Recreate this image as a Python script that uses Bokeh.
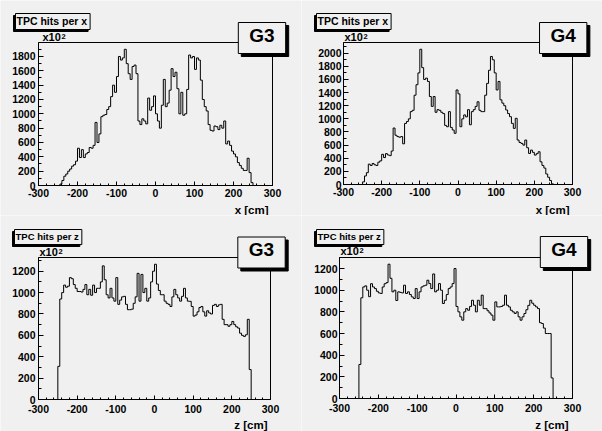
import numpy as np
from bokeh.plotting import figure
from bokeh.layouts import gridplot
from bokeh.models import Label, SingleIntervalTicker, Range1d, PrintfTickFormatter
from bokeh.embed import file_html
from bokeh.resources import INLINE

# ---------------- data (hits, in units of 10^2, 5 cm bins from -250 to 250) -------------
bin_width = 5
bin_low = -250

g3_hits_x = [0, 20, 70, 130, 160, 200, 230, 270, 290, 340,
             520, 390, 500, 390, 440, 460, 530, 520, 560, 880,
             600, 720, 960, 980, 990, 1060, 1100, 1240, 1400, 1300,
             1520, 1800, 1750, 1780, 1900, 1700, 1560, 1480, 1660, 1680,
             1560, 900, 850, 930, 900, 860, 1220, 1050, 1100, 1250,
             1000, 900, 800, 1120, 1480, 1100, 1150, 1330, 1630, 1520,
             1580, 1350, 1000, 1300, 980, 1000, 1340, 1820, 1780, 1800,
             1620, 1780, 1750, 1470, 1200, 1100, 1040, 850, 770, 760,
             830, 820, 780, 840, 800, 900, 580, 620, 560, 480,
             440, 400, 320, 280, 240, 210, 210, 380, 180, 40]

g4_hits_x = [40, 130, 180, 310, 290, 320, 300, 290, 340, 360,
             460, 410, 470, 450, 440, 510, 860, 750, 730, 720,
             730, 620, 930, 960, 1000, 1110, 1130, 1360, 1520, 1700,
             2060, 1780, 1600, 1620, 1570, 1340, 1190, 1340, 1100, 1140,
             1130, 1100, 1080, 900, 880, 1110, 870, 830, 780, 1440,
             1380, 880, 1000, 1060, 1030, 1140, 910, 1110, 1140, 1190,
             1260, 1130, 1110, 1110, 1360, 1540, 1740, 1950, 1900, 1700,
             1440, 1570, 1290, 1240, 1200, 1135, 1080, 1033, 931, 855,
             1008, 677, 640, 626, 600, 677, 560, 473, 524, 490,
             448, 470, 499, 346, 290, 250, 160, 110, 60, 10]

g3_hits_z = [310, 940, 1000, 1070, 1050, 1060, 1140, 1130, 1075, 1040,
             1010, 1010, 1005, 1030, 1075, 980, 1030, 975, 1070, 1000,
             1040, 1040, 1100, 1250, 1120, 980, 950, 1040, 950, 920,
             1140, 890, 930, 960, 965, 890, 840, 840, 845, 900,
             960, 1180, 920, 1170, 1000, 1040, 920, 950, 1100, 1200,
             1265, 1080, 1020, 980, 980, 920, 900, 890, 870, 960,
             1030, 980, 950, 920, 965, 1040, 950, 920, 918, 870,
             780, 790, 820, 860, 870, 820, 780, 830, 810, 800,
             880, 890, 870, 885, 890, 750, 700, 700, 685, 700,
             730, 700, 680, 668, 620, 600, 590, 605, 750, 280]

g4_hits_z = [314, 930, 1030, 1040, 1000, 940, 1060, 1030, 1015, 990,
             975, 970, 1030, 1060, 1070, 1240, 1110, 985, 1000, 905,
             985, 980, 975, 1046, 970, 985, 960, 938, 923, 1015,
             923, 985, 1030, 1040, 1046, 1092, 1061, 1015, 1150, 985,
             1000, 1061, 1000, 877, 907, 960, 1015, 1030, 1061, 1200,
             850, 800, 754, 723, 800, 830, 815, 850, 907, 861,
             800, 907, 861, 954, 830, 830, 810, 790, 770, 723,
             892, 846, 846, 850, 861, 954, 861, 846, 815, 800,
             785, 800, 754, 723, 754, 785, 820, 860, 907, 880,
             861, 846, 830, 700, 692, 650, 600, 600, 600, 190]

x_axis_range = (-300, 300)
x_major_step = 100
y_major_step = 200

panel_titles = ["TPC hits per x", "TPC hits per x", "TPC hits per z", "TPC hits per z"]
panel_tags = ["G3", "G4", "G3", "G4"]
axis_titles = ["x [cm]", "x [cm]", "z [cm]", "z [cm]"]
panel_data = [g3_hits_x, g4_hits_x, g3_hits_z, g4_hits_z]

# ---------------- layout / style -------------
BG = "#f0f0f0"
FONT = "Arial"

# figure-local pixel geometry (y measured from the top)
layout = [
    dict(w=301, h=215, fl=38, fr=272, ft=42, fb=185, tpc=(15, 13), tpc_size="10.5px",
         tag=(261.5, 37.5), x10=(42, 42), sup=(61, 38), ttl=(268, 203), xstand=3, ystand=3),
    dict(w=301, h=215, fl=42, fr=271, ft=42, fb=184, tpc=(15, 13), tpc_size="10.5px",
         tag=(261.7, 37.5), x10=(43, 42), sup=(62, 38), ttl=(268, 203), xstand=3, ystand=2),
    dict(w=301, h=216, fl=38, fr=270, ft=42, fb=184, tpc=(14, 14), tpc_size="9.5px",
         tag=(261, 37), x10=(39, 42), sup=(58, 38), ttl=(267, 203), xstand=5, ystand=3),
    dict(w=301, h=216, fl=38, fr=271, ft=42, fb=183, tpc=(15, 14), tpc_size="9.5px",
         tag=(262.5, 36.5), x10=(39, 41), sup=(58, 37), ttl=(267, 203), xstand=5, ystand=2),
]


def make_panel(counts, title, tag, axis_title, c):
    counts = np.asarray(counts, dtype=float)
    ymax = counts.max() * 1.05
    x0, x1 = x_axis_range
    sx = (c["fr"] - c["fl"]) / (x1 - x0)          # px per cm
    sy = (c["fb"] - c["ft"]) / ymax                # px per unit
    xs0 = x0 - c["fl"] / sx
    xs1 = xs0 + c["w"] / sx
    ys1 = ymax + c["ft"] / sy
    ys0 = -(c["h"] - c["fb"]) / sy

    def to_data(pt):
        return xs0 + pt[0] / sx, ys1 - pt[1] / sy

    p = figure(width=c["w"], height=c["h"], output_backend="svg", toolbar_location=None,
               tools="", title=None, x_range=Range1d(xs0, xs1), y_range=Range1d(ys0, ys1),
               min_border=0)
    p.background_fill_color = BG
    p.border_fill_color = BG
    p.outline_line_color = None
    p.grid.visible = False

    # ROOT frame
    p.quad(left=[x0], right=[x1], bottom=[0], top=[ymax], fill_color=None,
           line_color="black", line_width=1)

    edges = bin_low + bin_width * np.arange(len(counts) + 1)
    xs = np.repeat(edges, 2)
    ys = np.concatenate([[0.0], np.repeat(counts, 2), [0.0]])
    p.line(xs, ys, line_color="black", line_width=1)

    xa = p.xaxis[0]
    xa.ticker = SingleIntervalTicker(interval=x_major_step, num_minor_ticks=5)
    xa.fixed_location = 0
    xa.bounds = (x0, x1)
    ya = p.yaxis[0]
    ya.ticker = SingleIntervalTicker(interval=y_major_step, num_minor_ticks=2)
    ya.fixed_location = x0
    ya.bounds = (0, ymax)
    for ax, tin, mtin in ((xa, 4, 2), (ya, 5, 3)):
        ax.formatter = PrintfTickFormatter(format="%d")
        ax.axis_line_color = "black"
        ax.major_tick_line_color = "black"
        ax.minor_tick_line_color = "black"
        ax.major_tick_in = tin
        ax.major_tick_out = 0
        ax.minor_tick_in = mtin
        ax.minor_tick_out = 0
        ax.major_label_text_font = FONT
        ax.major_label_text_font_style = "bold"
        ax.major_label_text_font_size = "10.5px"
        ax.major_label_text_color = "black"
    xa.major_label_standoff = c["xstand"]
    ya.major_label_standoff = c["ystand"]

    def label(text, pt, size, align, baseline, **kw):
        x, y = to_data(pt)
        p.add_layout(Label(x=x, y=y, text=text, text_font=FONT, text_font_size=size,
                           text_font_style="bold", text_color="black",
                           text_align=align, text_baseline=baseline, **kw))

    def boxed(text, pt, size, align, baseline, pad, shadow):
        label(text, (pt[0] + shadow[0], pt[1] + shadow[1]), size, align, baseline,
              background_fill_color="black", border_line_color="black", padding=pad)
        label(text, pt, size, align, baseline, background_fill_color=BG,
              border_line_color="black", border_line_width=1, padding=pad)

    # padding given as (left, right, top, bottom)
    boxed(title, c["tpc"], c["tpc_size"], "left", "top", (1, 3, 1, 3), (-2, 2))
    boxed(tag, c["tag"], "19px", "center", "middle", (11, 11, 2, 8), (3, 3))
    label("x10", c["x10"], "11px", "left", "bottom")
    label("2", c["sup"], "7.5px", "left", "bottom")
    label(axis_title, c["ttl"], "11.5px", "right", "top")
    return p


figs = [make_panel(d, t, g, a, c)
        for d, t, g, a, c in zip(panel_data, panel_titles, panel_tags, axis_titles, layout)]

grid = gridplot([[figs[0], figs[1]], [figs[2], figs[3]]], toolbar_location=None)

open("out.html", "w").write(file_html(grid, INLINE))
